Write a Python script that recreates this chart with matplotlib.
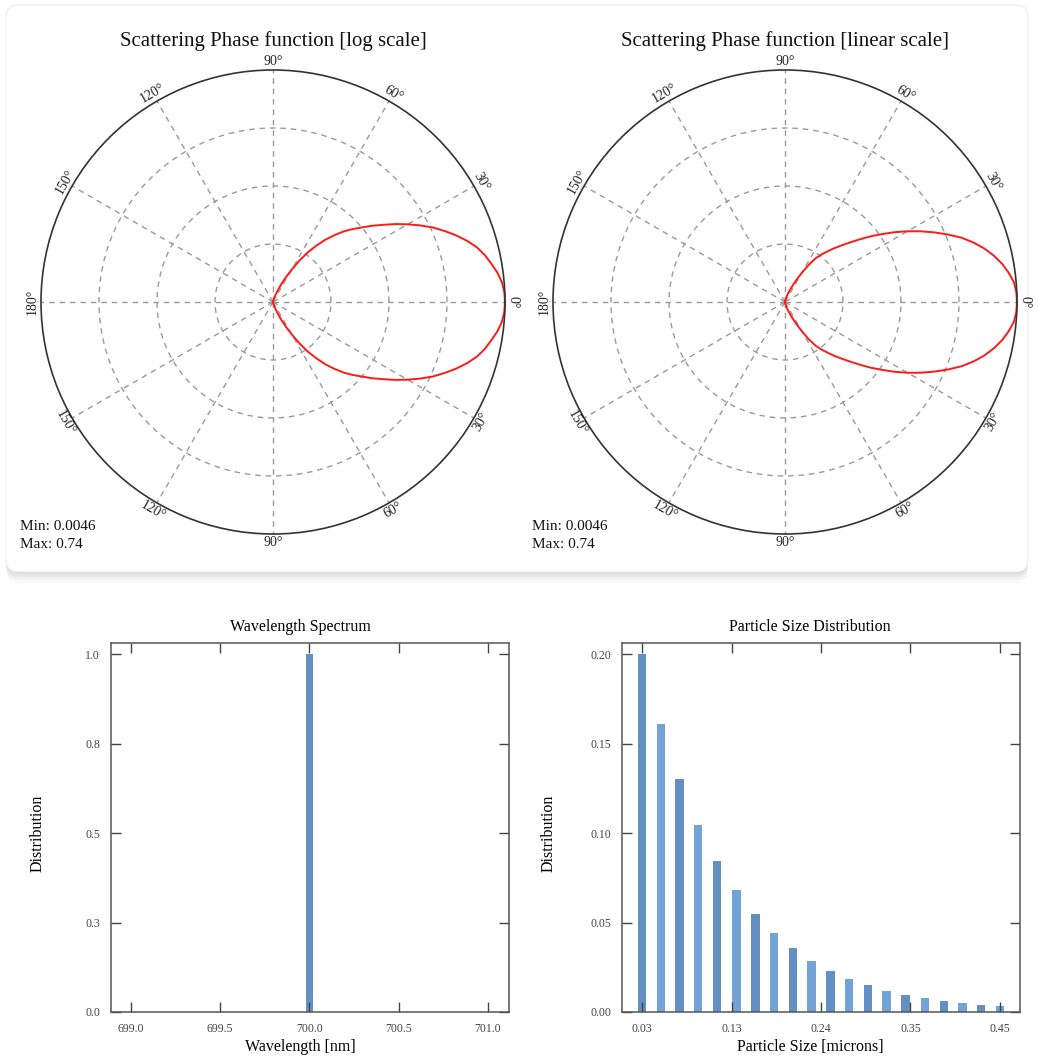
import numpy as np
import matplotlib
matplotlib.use("Agg")
import matplotlib.pyplot as plt
from matplotlib.patches import FancyBboxPatch

plt.rcParams['font.family'] = ['Liberation Serif', 'DejaVu Serif']

# scattering angle (deg) and normalised radius of the phase function curve
angles_deg = [0, 2.5, 5, 7.5, 10, 12.5, 15, 17.5, 20, 22.5, 25, 27.5, 30, 32.5, 35, 37.5, 40, 42.5,
              45, 47.5, 50, 52.5, 55, 57.5, 60, 62.5, 65, 67.5, 70, 72.5, 75, 77.5, 80, 82.5, 85, 87.5,
              90, 100, 110, 120, 130, 140, 150, 160, 170, 180]
r_log = [1.000, 0.998, 0.990, 0.975, 0.955, 0.935, 0.910, 0.877, 0.840, 0.800, 0.760, 0.715,
         0.670, 0.625, 0.580, 0.540, 0.500, 0.465, 0.430, 0.390, 0.350, 0.305, 0.260, 0.210,
         0.160, 0.120, 0.085, 0.055, 0.035, 0.022, 0.015, 0.010, 0.006, 0.004, 0.002, 0.001,
         0, 0, 0, 0, 0, 0, 0, 0, 0, 0]
r_lin = [1.000, 0.998, 0.990, 0.972, 0.950, 0.922, 0.890, 0.852, 0.810, 0.760, 0.710, 0.660,
         0.610, 0.560, 0.510, 0.465, 0.420, 0.380, 0.345, 0.315, 0.285, 0.258, 0.230, 0.190,
         0.145, 0.110, 0.080, 0.057, 0.040, 0.029, 0.021, 0.015, 0.010, 0.006, 0.003, 0.001,
         0, 0, 0, 0, 0, 0, 0, 0, 0, 0]
phase_min = "0.0046"
phase_max = "0.74"

grid_angles = [0, 30, 60, 90, 120, 150, 180, 210, 240, 270, 300, 330]
grid_labels = ['0°', '30°', '60°', '90°', '120°', '150°', '180°', '150°', '120°', '90°', '60°', '30°']
ring_radii = [0.25, 0.5, 0.75]

# wavelength spectrum
wavelengths = [700.0]
wl_dist = [1.0]
wl_ticks = [699.0, 699.5, 700.0, 700.5, 701.0]
wl_yticks = [0.0, 0.25, 0.5, 0.75, 1.0]
wl_ylabels = ['0.0', '0.3', '0.5', '0.8', '1.0']

# particle size distribution
sizes = [0.030, 0.052, 0.074, 0.096, 0.118, 0.141, 0.163, 0.185, 0.207, 0.229,
         0.251, 0.273, 0.295, 0.317, 0.339, 0.362, 0.384, 0.406, 0.428, 0.450]
size_dist = [0.200, 0.161, 0.130, 0.1047, 0.0845, 0.0682, 0.0548, 0.0443, 0.0355, 0.0286,
             0.0230, 0.0185, 0.0150, 0.0120, 0.0095, 0.0077, 0.0062, 0.0049, 0.0039, 0.0034]
size_ticks = [0.03, 0.135, 0.24, 0.345, 0.45]
size_ticklabels = ['0.03', '0.13', '0.24', '0.35', '0.45']
size_yticks = [0.0, 0.05, 0.10, 0.15, 0.20]
size_ylabels = ['0.00', '0.05', '0.10', '0.15', '0.20']

W, H = 1038, 1061
fig = plt.figure(figsize=(W / 100, H / 100), dpi=100)
fig.patch.set_facecolor('white')

def fx(px):
    return px / W

def fy(py):
    return 1 - py / H

# card behind the two polar plots, with a soft shadow
for k, a in enumerate([0.05, 0.04, 0.03, 0.02]):
    sh = FancyBboxPatch((fx(6), fy(574 + 3 * k)), fx(1022), fy(8) - fy(574 + 3 * k) - 0.004,
                        boxstyle="round,pad=0,rounding_size=0.012", transform=fig.transFigure,
                        facecolor='black', edgecolor='none', alpha=a, zorder=-2)
    fig.patches.append(sh)
card = FancyBboxPatch((fx(6), fy(572)), fx(1022), fy(5) - fy(572),
                      boxstyle="round,pad=0,rounding_size=0.012", transform=fig.transFigure,
                      facecolor='white', edgecolor='#ececec', lw=0.8, zorder=-1)
fig.patches.append(card)

ang = np.radians(angles_deg)

def polar_panel(cx, title, r_vals):
    R = 232
    ax = fig.add_axes([fx(cx - R), fy(302 + R), fx(2 * R), (2 * R) / H], projection='polar')
    ax.set_zorder(2)
    ax.set_facecolor('none')
    ax.set_ylim(0, 1)
    ax.set_xticks([])
    ax.set_yticks([])
    ax.grid(False)
    ax.spines['polar'].set_color('#333333')
    ax.spines['polar'].set_linewidth(1.2)
    t = np.linspace(0, 2 * np.pi, 361)
    for rr in ring_radii:
        ax.plot(t, np.full_like(t, rr), color='#9a9a9a', lw=1, ls=(0, (4, 3.5)))
    for a in grid_angles:
        ax.plot([np.radians(a)] * 2, [0, 1], color='#9a9a9a', lw=1, ls=(0, (4, 3.5)))
    for a, lab in zip(grid_angles, grid_labels):
        rot = a - 90 if a <= 180 else a - 270
        ax.text(np.radians(a), 1.036, lab, rotation=rot, rotation_mode='anchor',
                ha='center', va='center', fontsize=10, color='#222222', clip_on=False)
    theta = np.concatenate([-ang[::-1], ang])
    rad = np.concatenate([np.array(r_vals)[::-1], r_vals])
    ax.plot(theta, rad, color='#ff1a1a', lw=1.4, clip_on=False)
    fig.text(fx(cx), fy(41), title, ha='center', va='center', fontsize=15, color='#111111')
    fig.text(fx(cx - 253), fy(527), 'Min: ' + phase_min, ha='left', va='center', fontsize=11, color='#111111')
    fig.text(fx(cx - 253), fy(545), 'Max: ' + phase_max, ha='left', va='center', fontsize=11, color='#111111')
    return ax

polar_panel(273, 'Scattering Phase function [log scale]', r_log)
polar_panel(785, 'Scattering Phase function [linear scale]', r_lin)

def frame_style(ax):
    for s in ax.spines.values():
        s.set_color('#555555')
        s.set_linewidth(1.1)
    ax.tick_params(direction='in', length=7, width=1, color='#444444',
                   top=True, right=True, labelsize=8.5, labelcolor='#444444', pad=8)

# wavelength spectrum
ax1 = fig.add_axes([fx(111), fy(1012), fx(398), (1012 - 643) / H])
ax1.bar(wavelengths, wl_dist, width=0.04, color='#6690c4')
ax1.set_xlim(698.888, 701.118)
ax1.set_ylim(0, 1.031)
ax1.set_xticks(wl_ticks)
ax1.set_xticklabels(['%.1f' % v for v in wl_ticks])
ax1.set_yticks(wl_yticks)
ax1.set_yticklabels(wl_ylabels)
frame_style(ax1)
fig.text(fx(300), fy(627), 'Wavelength Spectrum', ha='center', va='center', fontsize=11.5)
fig.text(fx(300), fy(1047), 'Wavelength [nm]', ha='center', va='center', fontsize=11.5)
fig.text(fx(38), fy(833), 'Distribution', ha='center', va='center', rotation=90, fontsize=11.5)

# particle size distribution
ax2 = fig.add_axes([fx(622), fy(1012), fx(398), (1012 - 643) / H])
bar_colors = ['#6290c2' if i % 2 == 0 else '#72a2d6' for i in range(len(sizes))]
ax2.bar(sizes, size_dist, width=0.0098, color=bar_colors)
ax2.set_xlim(0.0065, 0.4735)
ax2.set_ylim(0, 0.2062)
ax2.set_xticks(size_ticks)
ax2.set_xticklabels(size_ticklabels)
ax2.set_yticks(size_yticks)
ax2.set_yticklabels(size_ylabels)
frame_style(ax2)
fig.text(fx(810), fy(627), 'Particle Size Distribution', ha='center', va='center', fontsize=11.5)
fig.text(fx(810), fy(1047), 'Particle Size [microns]', ha='center', va='center', fontsize=11.5)
fig.text(fx(549), fy(833), 'Distribution', ha='center', va='center', rotation=90, fontsize=11.5)

fig.savefig('out.png', dpi=100)
